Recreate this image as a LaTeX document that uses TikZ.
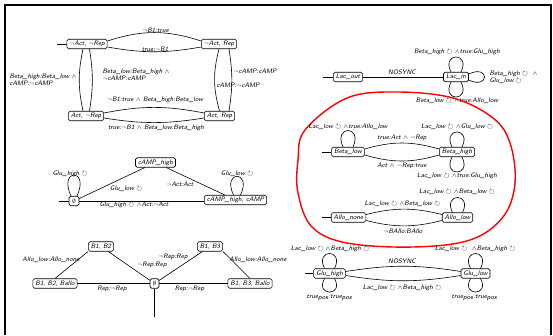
\documentclass[tikz,border=0pt]{standalone}
\usepackage{amssymb}
\newcommand{\cyc}{$\circlearrowright$}
\tikzset{
  every node/.style={font=\fontsize{6.5}{7.2}\selectfont\sffamily\slshape},
  st/.style={draw, rounded corners=1.6pt, line width=0.6pt, inner xsep=2.5pt,
             inner ysep=0pt, minimum height=9.5pt},
  edge/.style={line width=0.6pt},
  lbl/.style={inner sep=0.3pt},
  loopN/.style 2 args={to path={.. controls +(-#2,#1) and +(#2,#1) .. (\tikztotarget)}},
  loopS/.style 2 args={to path={.. controls +(-#2,-#1) and +(#2,-#1) .. (\tikztotarget)}},
  loopE/.style 2 args={to path={.. controls +(#1,#2) and +(#1,-#2) .. (\tikztotarget)}},
}
\begin{document}
\begin{tikzpicture}[x=1pt,y=1pt]
\useasboundingbox (0,0) rectangle (553,-335);
% frame
\draw[line width=1.6pt] (5,-335) -- (5,-5) -- (551,-5) -- (551,-335);

% ---------- Act / Rep ----------
\node[st] (nAnR) at (87,-44) {$\neg$Act, $\neg$Rep};
\node[st] (nAR) at (219,-44) {$\neg$Act, Rep};
\node[st] (AnR) at (86,-116) {Act, $\neg$Rep};
\node[st] (AR) at (219.5,-116) {Act, Rep};
\coordinate (i1) at (57,-44);
\draw[edge] (i1) -- (nAnR);
\draw[edge] ([yshift=3pt]nAnR.east) to[bend left=18] ([yshift=3pt]nAR.west);
\draw[edge] ([yshift=-3pt]nAnR.east) to[bend right=10] ([yshift=-3pt]nAR.west);
\draw[edge] ([xshift=-4pt]nAnR.south) to[bend right=12] ([xshift=-3pt]AnR.north);
\draw[edge] ([xshift=2.5pt]nAnR.south) to[bend left=9] ([xshift=3.5pt]AnR.north);
\draw[edge] (nAR.south) to[bend right=15] (AR.north);
\draw[edge] ([xshift=10pt]nAR.south) to[bend left=9] ([xshift=9.5pt]AR.north);
\draw[edge] ([yshift=3pt]AnR.east) to[bend left=11] ([yshift=3pt]AR.west);
\draw[edge] ([yshift=-2pt]AnR.east) to[bend right=9] ([yshift=-2pt]AR.west);
\node[lbl] (t1) at (155.5,-30) {$\neg$B1:true};
\node[lbl] (t2) at (155,-49) {true:$\neg$B1};
\node[lbl, align=left, anchor=west] (t3) at (9,-79.5) {Beta\_high:Beta\_low $\wedge$\\cAMP:$\neg$cAMP};
\node[lbl, align=left, anchor=west] (t4) at (102,-74.5) {Beta\_low:Beta\_high $\wedge$\\$\neg$cAMP:cAMP};
\node[lbl, anchor=west] (t5) at (233,-71) {$\neg$cAMP:cAMP};
\node[lbl, anchor=west] (t6) at (216,-85) {cAMP:$\neg$cAMP};
\node[lbl] (t7) at (155,-100) {$\neg$B1:true $\wedge$ Beta\_high:Beta\_low};
\node[lbl] (t8) at (156,-128) {true:$\neg$B1 $\wedge$ Beta\_low:Beta\_high};

% ---------- cAMP ----------
\node[st, minimum width=10pt] (z0) at (74,-201) {$\emptyset$};
\node[st] (ch) at (155.5,-162.5) {cAMP\_high};
\node[st] (chc) at (235.5,-200) {cAMP\_high, cAMP};
\coordinate (i2) at (59,-201);
\draw[edge] (i2) -- (z0);
\draw[edge] (z0) -- (ch);
\draw[edge] (ch) -- (chc);
\draw[edge] (chc.west |- z0.east) -- (z0.east);
\draw[edge] ([xshift=-3pt]z0.north) to[loopN={28}{13}] ([xshift=3pt]z0.north);
\draw[edge] ([xshift=-2pt]chc.north) to[loopN={25}{12}] ([xshift=5pt]chc.north);
\node[lbl] (c1) at (70,-174) {Glu\_high \cyc};
\node[lbl] (c2) at (237,-174) {Glu\_low \cyc};
\node[lbl] (c3) at (126,-189) {Glu\_low \cyc};
\node[lbl] (c4) at (180,-184) {$\neg$Act:Act};
\node[lbl] (c5) at (134,-204.5) {Glu\_high \cyc\ $\wedge$Act:$\neg$Act};

% ---------- B1 / B2 / B3 ----------
\node[st] (b12) at (101,-246.5) {B1, B2};
\node[st] (b13) at (210,-246.5) {B1, B3};
\node[st] (b12a) at (55,-283.5) {B1, B2, Ballo};
\node[st, minimum width=9pt] (z1) at (154.5,-283.5) {$\emptyset$};
\node[st] (b13a) at (250,-283.5) {B1, B3, Ballo};
\coordinate (i3) at (154.5,-317);
\draw[edge] (i3) -- (z1);
\draw[edge] (b12a.north) -- (b12.south west);
\draw[edge] (b12) -- (z1);
\draw[edge] (z1) -- (b13);
\draw[edge] (b13a.north) -- (b13.south east);
\draw[edge] (b12a.east) -- (z1.west);
\draw[edge] (z1.east) -- (b13a.west);
\node[lbl] (d1) at (51,-260) {Allo\_low:Allo\_none};
\node[lbl] (d2) at (152,-265) {$\neg$Rep:Rep};
\node[lbl] (d3) at (173,-257) {$\neg$Rep:Rep};
\node[lbl] (d4) at (258,-260) {Allo\_low:Allo\_none};
\node[lbl] (d5) at (112,-288.5) {Rep:$\neg$Rep};
\node[lbl] (d6) at (189.5,-288.5) {Rep:$\neg$Rep};

% ---------- Lac ----------
\node[st] (lo) at (348,-77) {Lac\_out};
\node[st] (li) at (456,-77) {Lac\_in};
\coordinate (i4) at (323,-77);
\draw[edge] (i4) -- (lo);
\draw[edge] (lo) -- (li);
\draw[edge] ([xshift=-5pt]li.north) to[loopN={20}{10}] ([xshift=5pt]li.north);
\draw[edge] ([xshift=-5pt]li.south) to[loopS={20}{10}] ([xshift=5pt]li.south);
\draw[edge] ([yshift=3pt]li.east) to[loopE={21}{10}] ([yshift=-3pt]li.east);
\node[lbl] (e1) at (402,-72) {NOSYNC};
\node[lbl] (e2) at (457,-52) {Beta\_high \cyc\ $\wedge$true:Glu\_high};
\node[lbl, align=left, anchor=west] (e3) at (489,-77) {Beta\_high \cyc\ \ $\wedge$\\Glu\_low \cyc};
\node[lbl] (e4) at (457,-101) {Beta\_low \cyc\ $\wedge$true:Allo\_low};

% ---------- Beta / Allo (highlighted) ----------
\draw[red, line width=1.4pt] plot[smooth cycle, tension=0.6] coordinates {
  (397,-92) (453,-98) (493,-118) (510,-143) (515,-183) (503,-217) (470,-240)
  (413,-247) (347,-243) (312,-227) (298,-193) (298,-160) (305,-130) (347,-98)};
\node[st] (bl) at (348,-152) {Beta\_low};
\node[st] (bh) at (457,-152) {Beta\_high};
\node[st] (an) at (348.5,-217.5) {Allo\_none};
\node[st] (al) at (457.5,-217.5) {Allo\_low};
\coordinate (i5) at (322,-152);
\coordinate (i6) at (322,-217.5);
\draw[edge] (i5) -- (bl);
\draw[edge] (i6) -- (an);
\draw[edge] ([yshift=3pt]bl.east) to[bend left=16] ([yshift=3pt]bh.west);
\draw[edge] ([yshift=-3pt]bl.east) to[bend right=16] ([yshift=-3pt]bh.west);
\draw[edge] ([yshift=3pt]an.east) to[bend left=14] ([yshift=3pt]al.west);
\draw[edge] ([yshift=-3pt]an.east) to[bend right=14] ([yshift=-3pt]al.west);
\draw[edge] ([xshift=-5pt]bl.north) to[loopN={22}{10}] ([xshift=5pt]bl.north);
\draw[edge] ([xshift=-5pt]bh.north) to[loopN={20}{10}] ([xshift=5pt]bh.north);
\draw[edge] ([xshift=-5pt]bh.south) to[loopS={20}{10}] ([xshift=5pt]bh.south);
\draw[edge] ([xshift=-5pt]al.north) to[loopN={20}{10}] ([xshift=5pt]al.north);
\node[lbl] (f1) at (348,-127) {Lac\_low \cyc\ $\wedge$true:Allo\_low};
\node[lbl] (f2) at (457,-127) {Lac\_low \cyc\ $\wedge$Glu\_low \cyc};
\node[lbl] (f3) at (402,-138) {true:Act $\wedge$ $\neg$Rep};
\node[lbl] (f4) at (402,-166) {Act $\wedge$ $\neg$Rep:true};
\node[lbl] (f5) at (457,-176) {Lac\_low \cyc\ $\wedge$true:Glu\_high};
\node[lbl] (f6) at (457,-192) {Lac\_low \cyc\ $\wedge$Beta\_low \cyc};
\node[lbl] (f7) at (402.5,-204) {Lac\_low \cyc\ $\wedge$Beta\_low \cyc};
\node[lbl] (f8) at (403,-231) {$\neg$BAllo:BAllo};

% ---------- Glu ----------
\node[st] (gh) at (329.5,-273.5) {Glu\_high};
\node[st] (gl) at (475.5,-273.5) {Glu\_low};
\coordinate (i7) at (305,-273.5);
\draw[edge] (i7) -- (gh);
\draw[edge] ([yshift=2pt]gh.east) to[bend left=9] ([yshift=2pt]gl.west);
\draw[edge] ([yshift=-2pt]gh.east) to[bend right=9] ([yshift=-2pt]gl.west);
\draw[edge] ([xshift=-5pt]gh.north) to[loopN={20}{10}] ([xshift=5pt]gh.north);
\draw[edge] ([xshift=-5pt]gh.south) to[loopS={18}{10}] ([xshift=5pt]gh.south);
\draw[edge] ([xshift=-5pt]gl.north) to[loopN={20}{10}] ([xshift=5pt]gl.north);
\draw[edge] ([xshift=-5pt]gl.south) to[loopS={18}{10}] ([xshift=5pt]gl.south);
\node[lbl] (g1) at (330,-249) {Lac\_low \cyc\ $\wedge$Beta\_high \cyc};
\node[lbl] (g2) at (475,-249) {Lac\_low \cyc\ \ $\wedge$Beta\_high \cyc};
\node[lbl] (g3) at (402,-261) {NOSYNC};
\node[lbl] (g4) at (402,-288) {Lac\_low \cyc\ $\wedge$Beta\_high \cyc};
\node[lbl] (g5) at (329.5,-298) {true$_{\textsf{\slshape pos}}$:true$_{\textsf{\slshape pos}}$};
\node[lbl] (g6) at (474.5,-298) {true$_{\textsf{\slshape pos}}$:true$_{\textsf{\slshape pos}}$};
\end{tikzpicture}
\end{document}
